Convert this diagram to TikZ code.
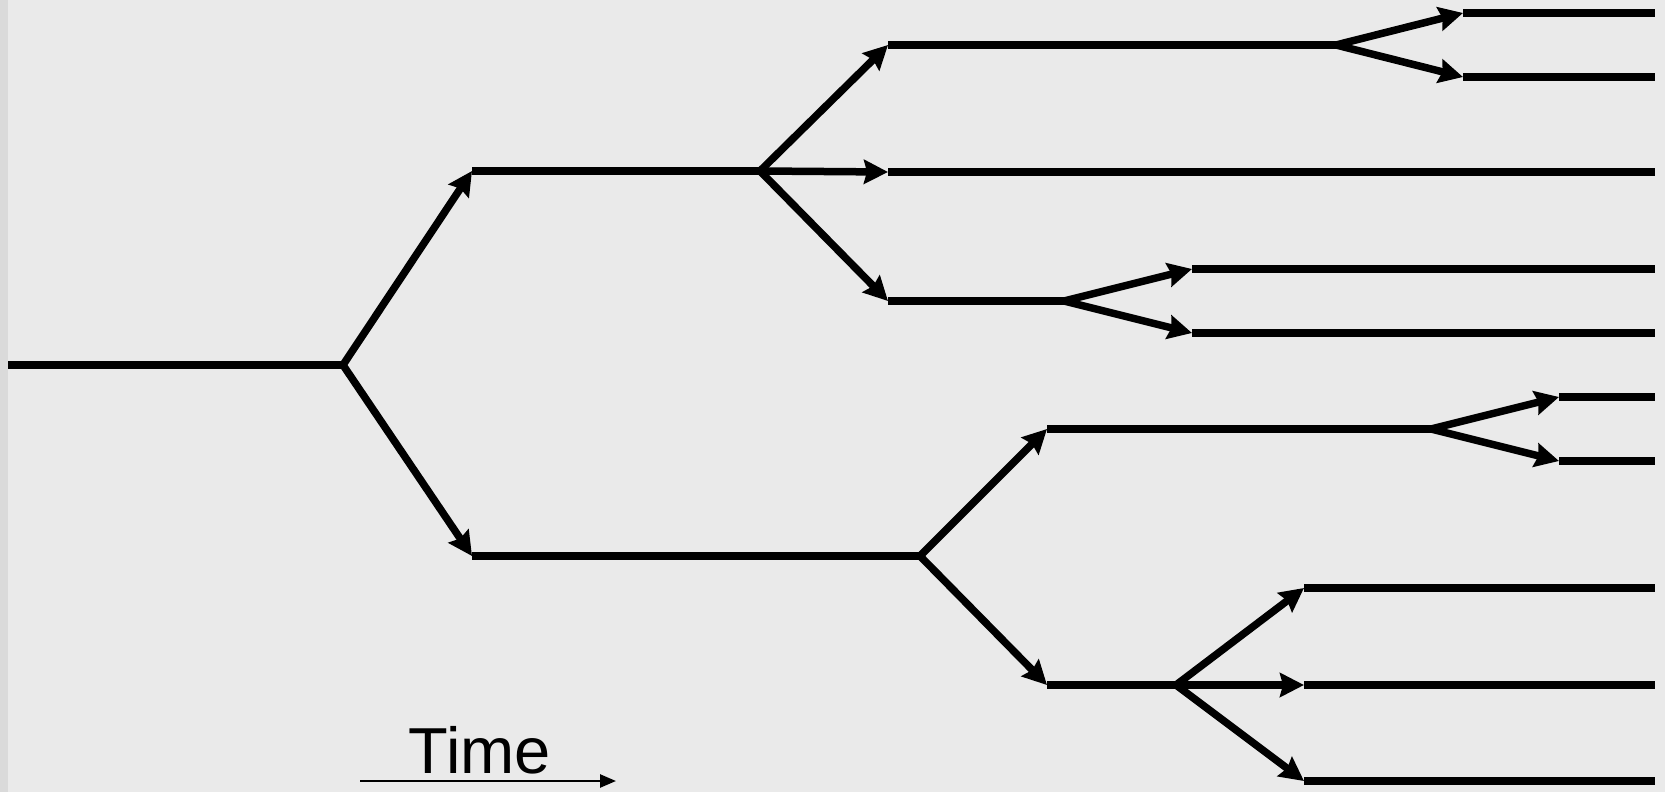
\documentclass[tikz,border=0pt]{standalone}
\usepackage{fontspec}
\setmainfont{Liberation Sans}
\usetikzlibrary{arrows.meta}
\begin{document}
\begin{tikzpicture}[x=1pt,y=-1pt,
  seg/.style={line width=7.5pt},
  br/.style={line width=7.5pt,-{Stealth[length=24pt,width=24pt,inset=3pt]}},
  timearrow/.style={line width=2.5pt,-{Triangle[length=16pt,width=13pt]}}]
\useasboundingbox (0,0) rectangle (1665,792);
\fill[fill={rgb,255:red,234;green,234;blue,234}] (0,0) rectangle (1665,792);
\fill[fill={rgb,255:red,218;green,218;blue,218}] (0,0) rectangle (8,792);
% coordinates
\coordinate (r0) at (8,365);
\coordinate (A) at (343,365);
\coordinate (s1) at (472,171); \coordinate (B) at (760,171);
\coordinate (s2) at (472,556); \coordinate (C) at (920,556);
\coordinate (t1) at (888,45);  \coordinate (D) at (1336,45);
\coordinate (t2) at (888,172); \coordinate (t2e) at (1655,172);
\coordinate (t3) at (888,301); \coordinate (E) at (1064,301);
\coordinate (u1) at (1463,13); \coordinate (u1e) at (1655,13);
\coordinate (u2) at (1463,77); \coordinate (u2e) at (1655,77);
\coordinate (v1) at (1192,269); \coordinate (v1e) at (1655,269);
\coordinate (v2) at (1192,333); \coordinate (v2e) at (1655,333);
\coordinate (w1) at (1047,429); \coordinate (F) at (1431,429);
\coordinate (w2) at (1047,685); \coordinate (G) at (1176,685);
\coordinate (x1) at (1559,397); \coordinate (x1e) at (1655,397);
\coordinate (x2) at (1559,461); \coordinate (x2e) at (1655,461);
\coordinate (y1) at (1304,588); \coordinate (y1e) at (1655,588);
\coordinate (y2) at (1304,685); \coordinate (y2e) at (1655,685);
\coordinate (y3) at (1304,781); \coordinate (y3e) at (1655,781);
% segments
\draw[seg] (r0) -- (A);
\draw[seg] (s1) -- (B);
\draw[seg] (s2) -- (C);
\draw[seg] (t1) -- (D);
\draw[seg] (t2) -- (t2e);
\draw[seg] (t3) -- (E);
\draw[seg] (u1) -- (u1e);
\draw[seg] (u2) -- (u2e);
\draw[seg] (v1) -- (v1e);
\draw[seg] (v2) -- (v2e);
\draw[seg] (w1) -- (F);
\draw[seg] (w2) -- (G);
\draw[seg] (x1) -- (x1e);
\draw[seg] (x2) -- (x2e);
\draw[seg] (y1) -- (y1e);
\draw[seg] (y2) -- (y2e);
\draw[seg] (y3) -- (y3e);
% branches
\draw[br] (A) -- (s1);
\draw[br] (A) -- (s2);
\draw[br] (B) -- (t1);
\draw[br] (B) -- (t2);
\draw[br] (B) -- (t3);
\draw[br] (D) -- (u1);
\draw[br] (D) -- (u2);
\draw[br] (E) -- (v1);
\draw[br] (E) -- (v2);
\draw[br] (C) -- (w1);
\draw[br] (C) -- (w2);
\draw[br] (F) -- (x1);
\draw[br] (F) -- (x2);
\draw[br] (G) -- (y1);
\draw[br] (G) -- (y2);
\draw[br] (G) -- (y3);
% time axis
\coordinate (ta) at (360,781);
\coordinate (tb) at (616,781);
\draw[timearrow] (ta) -- (tb);
\node[anchor=base,inner sep=0pt,font=\fontsize{65}{78}\selectfont] (time) at (480,773) {Time};
\end{tikzpicture}
\end{document}
